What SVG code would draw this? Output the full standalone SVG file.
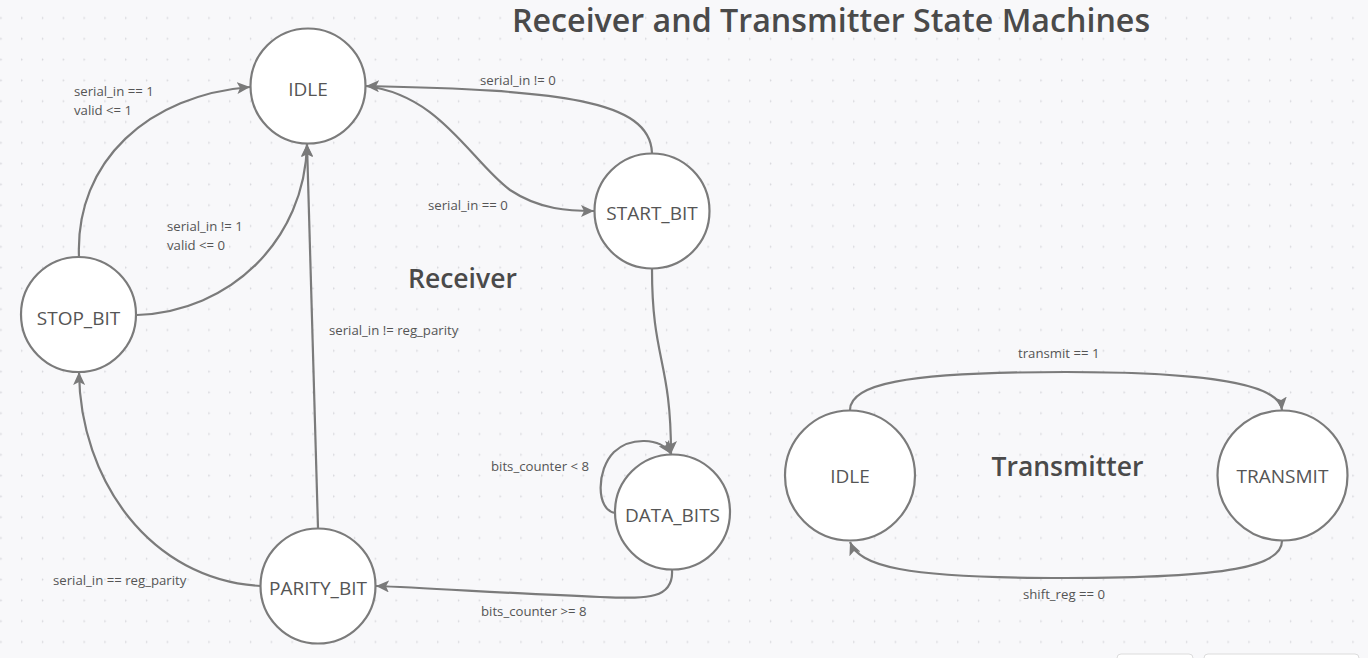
<svg xmlns="http://www.w3.org/2000/svg" width="1368" height="658" viewBox="0 0 1368 658">
<defs>
<pattern id="grid" x="0.3" y="7.6" width="20.8" height="20.8" patternUnits="userSpaceOnUse">
<circle cx="0.5" cy="10.4" r="1" fill="#d6d6da"/>
</pattern>
<marker id="arr" markerUnits="userSpaceOnUse" markerWidth="14" markerHeight="12" refX="13" refY="6" orient="auto">
<path d="M0,0 L13,6 L0,12 L3,6 Z" fill="#7a7a7a"/>
</marker>
<style>
.node{fill:#ffffff;stroke:#7b7b7b;stroke-width:2.2}
.ntext{font-family:"Open Sans","Noto Sans","Liberation Sans",sans-serif;font-size:19px;fill:#555555;text-anchor:middle}
.edge{fill:none;stroke:#7b7b7b;stroke-width:2.2}
.lbl{font-family:"Open Sans","Noto Sans","Liberation Sans",sans-serif;font-size:13.2px;fill:#555555}
.head{font-family:"Open Sans","Noto Sans","Liberation Sans",sans-serif;font-weight:600;fill:#4a4a4a}
</style>
</defs>
<rect width="1368" height="658" fill="#f8f8fa"/>
<rect width="1368" height="658" fill="url(#grid)"/>

<text class="head" x="512" y="32" font-size="32.2">Receiver and Transmitter State Machines</text>
<text class="head" x="408" y="288" font-size="26.5">Receiver</text>
<text class="head" x="991.5" y="476" font-size="26.5">Transmitter</text>

<g id="connectors">
<path class="edge" d="M79 257 C75 160 150 95 250 87" marker-end="url(#arr)"/>
<path class="edge" d="M137 315 C230 312 305 240 307 144" marker-end="url(#arr)"/>
<path class="edge" d="M318 528 L307 144" marker-end="url(#arr)"/>
<path class="edge" d="M261 586 C150 580 80 480 79 372" marker-end="url(#arr)"/>
<path class="edge" d="M672 570 C674 602 640 598 600 597 C520 594 430 588 376 586" marker-end="url(#arr)"/>
<path class="edge" d="M652 269 C652 360 671 360 671 454" marker-end="url(#arr)"/>
<path class="edge" d="M615 513 C596 510 596 470 614 452 C630 437 660 437 671 454" marker-end="url(#arr)"/>
<path class="edge" d="M366 86 C440 95 470 160 510 190 C540 210 570 211 594 211" marker-end="url(#arr)"/>
<path class="edge" d="M652 153 C650 100 560 90 366 86" marker-end="url(#arr)"/>
<path class="edge" d="M850 410 C850 385 900 372 1066 372 C1230 372 1280 388 1282 410" marker-end="url(#arr)"/>
<path class="edge" d="M1282 541 C1282 566 1230 578 1066 578 C900 578 860 566 850 542" marker-end="url(#arr)"/>
</g>

<g id="labels">
<text class="lbl" x="74" y="96">serial_in == 1</text>
<text class="lbl" x="74" y="115">valid &lt;= 1</text>
<text class="lbl" x="167" y="231">serial_in != 1</text>
<text class="lbl" x="167" y="250">valid &lt;= 0</text>
<text class="lbl" x="480" y="85">serial_in != 0</text>
<text class="lbl" x="428" y="210">serial_in == 0</text>
<text class="lbl" x="329" y="335">serial_in != reg_parity</text>
<text class="lbl" x="491" y="471">bits_counter &lt; 8</text>
<text class="lbl" x="481" y="616">bits_counter &gt;= 8</text>
<text class="lbl" x="53" y="585">serial_in == reg_parity</text>
<text class="lbl" x="1018" y="358">transmit == 1</text>
<text class="lbl" x="1023" y="599">shift_reg == 0</text>
</g>

<g id="rx_idle"><circle class="node" cx="308" cy="86" r="57.5"/><text class="ntext" x="308" y="96">IDLE</text></g>
<g id="stop_bit"><circle class="node" cx="78.5" cy="314.5" r="57.5"/><text class="ntext" x="78.5" y="325">STOP_BIT</text></g>
<g id="start_bit"><circle class="node" cx="652" cy="211" r="57.5"/><text class="ntext" x="652" y="220">START_BIT</text></g>
<g id="data_bits"><circle class="node" cx="672.5" cy="512" r="57.5"/><text class="ntext" x="672.5" y="522">DATA_BITS</text></g>
<g id="parity_bit"><circle class="node" cx="318" cy="586" r="57.5"/><text class="ntext" x="318" y="595">PARITY_BIT</text></g>
<g id="tx_idle"><circle class="node" cx="850" cy="475.5" r="65"/><text class="ntext" x="850" y="483">IDLE</text></g>
<g id="transmit"><circle class="node" cx="1282.5" cy="475.5" r="65"/><text class="ntext" x="1282.5" y="483">TRANSMIT</text></g>

<rect x="1117" y="654" width="76" height="20" rx="4" fill="#ffffff" stroke="#dcdcdc"/>
<rect x="1204" y="654" width="155" height="20" rx="4" fill="#ffffff" stroke="#dcdcdc"/>
</svg>
